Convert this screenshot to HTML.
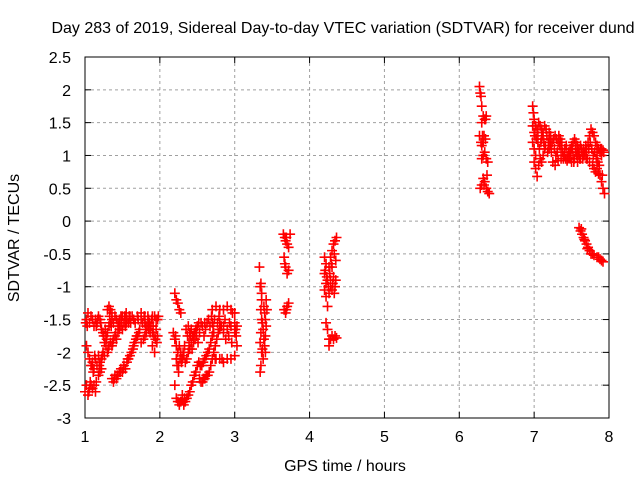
<!DOCTYPE html>
<html><head><meta charset="utf-8"><style>
body{margin:0;background:#fff;}
svg{display:block;font-family:"Liberation Sans",sans-serif;font-size:16px;}
</style></head><body>
<svg id="chart" width="640" height="480">
<g id="grid"></g><g id="axes"></g><g id="pts"></g>
<text x="343" y="33" text-anchor="middle">Day 283 of 2019, Sidereal Day-to-day VTEC variation (SDTVAR) for receiver dund</text>
<text x="345" y="471" text-anchor="middle">GPS time / hours</text>
<text transform="translate(19,238) rotate(-90)" text-anchor="middle">SDTVAR / TECUs</text>
</svg>
<script>
const xTicks=[1,2,3,4,5,6,7,8];
const yTicks=[2.5,2,1.5,1,0.5,0,-0.5,-1,-1.5,-2,-2.5,-3];
const clusterA=[[1.0,-2.6],[1.02,-2.5],[1.04,-2.65],[1.06,-2.55],[1.08,-2.5],[1.1,-2.55],[1.12,-2.5],[1.14,-2.6],
[1.02,-1.5],[1.04,-1.4],[1.06,-1.55],[1.08,-1.45],[1.1,-1.5],[1.12,-1.6],[1.14,-1.5],[1.16,-1.55],[1.18,-1.45],[1.2,-1.5],[1.22,-1.65],[1.24,-1.7],
[1.02,-1.9],[1.04,-2.0],[1.06,-2.1],[1.08,-2.2],[1.1,-2.15],[1.12,-2.25],[1.14,-2.1],[1.16,-2.2],[1.18,-2.05],[1.2,-2.15],[1.22,-2.1],[1.24,-2.0],[1.26,-2.05],[1.28,-1.9],
[1.15,-2.45],[1.18,-2.35],[1.2,-2.3],[1.22,-2.25],
[1.26,-1.85],[1.28,-1.75],[1.3,-1.7],[1.32,-1.6],[1.34,-1.55],[1.36,-1.5],[1.38,-1.55],[1.4,-1.45],[1.42,-1.5],[1.44,-1.55],[1.46,-1.5],[1.48,-1.45],
[1.3,-1.35],[1.32,-1.3],[1.34,-1.35],[1.36,-1.4],
[1.3,-2.0],[1.32,-1.9],[1.34,-1.85],[1.36,-1.9],[1.38,-1.8],[1.4,-1.75],[1.42,-1.8],[1.44,-1.7],[1.46,-1.65],[1.48,-1.6],[1.5,-1.65],[1.52,-1.55],[1.54,-1.6],[1.56,-1.5],[1.58,-1.55],[1.6,-1.5],
[1.36,-2.4],[1.38,-2.45],[1.4,-2.35],[1.42,-2.4],[1.44,-2.35],[1.46,-2.3],[1.48,-2.25],[1.5,-2.3],[1.52,-2.2],[1.54,-2.25],[1.56,-2.15],[1.58,-2.1],[1.6,-2.05],[1.62,-2.0],[1.64,-1.95],[1.66,-1.85],[1.68,-1.8],[1.7,-1.75],[1.72,-1.7],
[1.5,-1.45],[1.55,-1.4],[1.6,-1.45],[1.65,-1.5],[1.7,-1.45],[1.75,-1.5],[1.8,-1.45],[1.85,-1.5],[1.9,-1.45],[1.95,-1.5],[1.98,-1.45],
[1.75,-1.85],[1.78,-1.8],[1.8,-1.75],[1.82,-1.7],[1.85,-1.65],[1.88,-1.6],[1.9,-1.7],[1.92,-1.75],[1.94,-1.8],[1.96,-1.85],
[1.8,-1.55],[1.83,-1.6],[1.86,-1.55],[1.9,-1.9],[1.93,-2.0],[1.95,-1.65],
[1.01,-1.55],[1.03,-1.6],[1.05,-2.6],[1.07,-2.45],[1.09,-2.2],[1.11,-2.3],[1.13,-2.05],[1.15,-1.6],[1.17,-1.5],[1.19,-2.2],[1.21,-1.55],[1.23,-2.05],[1.25,-1.75],[1.27,-1.65],[1.29,-1.8],[1.31,-1.95],[1.33,-1.45],[1.35,-1.6],[1.37,-1.85],[1.39,-2.4],[1.41,-1.7],[1.43,-2.35],[1.45,-1.6],[1.47,-2.3],[1.49,-1.5],[1.51,-2.25],[1.53,-1.45],[1.55,-1.55],[1.57,-2.1],[1.59,-1.45],[1.61,-1.55],[1.63,-1.45],[1.65,-1.9],[1.67,-1.55],[1.69,-1.75],[1.71,-1.5],[1.73,-1.65],[1.75,-1.4],[1.77,-1.55],[1.79,-1.45],[1.81,-1.6],[1.84,-1.45],[1.87,-1.7],[1.89,-1.5],[1.91,-1.6],[1.93,-1.45],[1.97,-1.75],[1.97,-1.5]];
const clusterB=[[2.2,-1.1],[2.22,-1.2],[2.24,-1.25],[2.26,-1.35],[2.28,-1.4],
[2.18,-1.7],[2.2,-1.8],[2.22,-1.9],[2.24,-2.0],[2.22,-2.1],[2.25,-2.2],[2.2,-2.5],[2.22,-2.7],[2.24,-2.75],[2.26,-2.8],[2.3,-2.72],
[2.26,-1.9],[2.28,-2.0],[2.3,-2.1],[2.32,-2.05],[2.34,-2.15],[2.36,-2.1],[2.38,-2.0],[2.4,-1.95],[2.42,-1.85],[2.44,-1.75],[2.46,-1.7],[2.48,-1.65],[2.5,-1.6],[2.52,-1.55],[2.55,-1.55],[2.6,-1.55],[2.65,-1.5],[2.7,-1.55],
[2.32,-2.8],[2.34,-2.75],[2.36,-2.7],[2.38,-2.65],[2.4,-2.6],[2.42,-2.5],[2.44,-2.45],[2.46,-2.35],[2.48,-2.3],[2.5,-2.2],[2.52,-2.15],[2.54,-2.2],[2.56,-2.2],[2.58,-2.15],[2.6,-2.1],[2.62,-2.05],[2.64,-2.0],[2.66,-1.95],[2.68,-1.85],[2.7,-1.75],[2.72,-1.7],
[2.55,-2.45],[2.58,-2.4],[2.6,-2.4],[2.62,-2.35],[2.64,-2.35],[2.66,-2.3],[2.68,-2.2],[2.7,-2.1],[2.72,-2.0],[2.74,-1.9],[2.76,-1.8],[2.78,-1.7],[2.8,-1.65],
[2.35,-1.65],[2.38,-1.6],[2.4,-1.7],[2.42,-1.65],
[2.7,-1.35],[2.75,-1.3],[2.8,-1.35],[2.85,-1.35],[2.9,-1.3],[2.95,-1.35],[3.0,-1.4],
[2.8,-1.55],[2.85,-1.6],[2.9,-1.65],[2.95,-1.6],[3.0,-1.55],[3.03,-1.6],
[2.75,-2.1],[2.8,-2.1],[2.85,-2.15],[2.9,-2.1],[2.95,-2.1],[3.0,-2.05],[3.03,-1.9],
[2.85,-1.7],[2.88,-1.8],[2.92,-1.75],[2.96,-1.85],[3.0,-1.7],[3.02,-1.75],
[2.21,-1.75],[2.23,-2.2],[2.25,-2.3],[2.27,-2.1],[2.29,-2.15],[2.31,-2.0],[2.33,-1.9],[2.37,-1.75],[2.39,-1.85],[2.41,-1.75],[2.43,-1.95],[2.45,-1.85],[2.47,-1.8],[2.49,-1.75],[2.51,-1.85],[2.53,-1.7],[2.57,-1.6],[2.59,-1.75],[2.61,-1.65],[2.63,-1.55],[2.67,-1.6],[2.69,-1.45],[2.71,-1.6],[2.73,-1.5],[2.77,-1.55],[2.79,-1.45],[2.82,-1.6],[2.83,-2.1],[2.87,-1.5],[2.93,-1.55],[2.97,-1.4],[3.01,-1.65],[2.28,-2.75],[2.3,-2.65],[2.33,-2.7],[2.53,-2.4],[2.57,-2.45],[2.74,-2.1]];
const clusterC=[[3.33,-0.7],[3.35,-0.95],[3.34,-1.0],[3.36,-1.2],[3.35,-1.35],[3.36,-1.5],[3.35,-1.7],[3.34,-1.85],[3.36,-2.0],[3.35,-2.2],[3.34,-2.3],[3.38,-2.1],[3.4,-1.9],[3.41,-1.75],[3.42,-1.6],[3.41,-1.5],[3.43,-1.35],[3.42,-1.2],[3.4,-1.4],[3.38,-1.65],[3.39,-1.8],[3.37,-1.95],[3.37,-1.55],[3.39,-1.3],[3.41,-2.0],[3.36,-1.1]];
const clusterD=[[3.65,-0.2],[3.67,-0.25],[3.68,-0.3],[3.7,-0.35],[3.72,-0.4],[3.66,-0.55],[3.68,-0.7],[3.7,-0.8],[3.72,-0.75],[3.66,-1.35],[3.68,-1.4],[3.7,-1.3],[3.72,-1.25],[3.74,-0.2],[3.69,-0.25],[3.67,-0.65],[3.69,-1.35]];
const clusterE=[[4.2,-0.55],[4.22,-0.65],[4.2,-0.8],[4.22,-0.95],[4.2,-1.05],[4.22,-1.15],[4.24,-0.9],[4.26,-0.7],[4.28,-0.55],[4.3,-0.45],[4.32,-0.35],[4.34,-0.3],[4.36,-0.25],[4.3,-0.7],[4.32,-0.85],[4.34,-1.0],[4.3,-1.05],[4.35,-0.6],[4.28,-0.9],[4.26,-1.1],[4.22,-1.55],[4.24,-1.65],[4.26,-1.8],[4.26,-1.9],[4.3,-1.75],[4.32,-1.8],[4.34,-1.75],[4.36,-1.78],[4.28,-1.0],[4.24,-1.3],[4.21,-0.75],[4.23,-0.85],[4.25,-1.0],[4.27,-0.8],[4.29,-0.65],[4.31,-0.95],[4.33,-0.5],[4.35,-0.9],[4.33,-1.1],[4.28,-1.8]];
const clusterF=[[6.27,2.05],[6.28,1.95],[6.29,1.9],[6.3,1.75],[6.32,1.6],[6.34,1.55],[6.36,1.6],[6.3,1.5],[6.32,1.2],[6.33,1.3],[6.3,1.15],[6.34,1.05],[6.36,0.95],[6.38,0.9],[6.37,0.7],[6.3,0.95],[6.27,1.3],[6.32,0.65],[6.3,0.55],[6.28,0.5],[6.34,0.6],[6.36,0.5],[6.38,0.45],[6.4,0.42],[6.32,1.0],[6.29,1.2],[6.31,1.3],[6.35,1.25],[6.33,0.55],[6.35,1.55]];
const clusterG=[[6.98,1.75],[6.99,1.65],[7.0,1.55],[6.98,1.45],[7.0,1.35],[7.02,1.45],[7.04,1.4],[7.06,1.5],[7.08,1.45],[7.1,1.4],[7.12,1.35],[7.14,1.45],[7.16,1.4],[7.2,1.35],[7.22,1.3],
[6.98,1.2],[7.0,1.1],[7.02,1.0],[7.0,0.9],[7.02,0.8],[7.04,0.68],[7.06,0.85],[7.08,0.95],[7.1,0.9],[7.12,1.0],[7.14,1.1],[7.05,1.2],[7.1,1.25],[7.15,1.15],[7.18,1.05],
[7.2,1.1],[7.22,1.15],[7.24,1.2],[7.26,1.25],[7.28,1.3],[7.3,1.25],[7.32,1.2],[7.34,1.15],[7.36,1.1],[7.38,1.05],[7.4,1.0],[7.42,0.95],[7.44,1.0],[7.46,1.05],[7.48,1.1],[7.5,1.15],[7.52,1.2],[7.54,1.25],[7.56,1.2],[7.58,1.15],[7.6,1.1],
[7.25,0.9],[7.28,0.85],[7.32,0.92],[7.36,0.95],[7.4,1.0],[7.44,0.92],[7.48,0.95],[7.52,1.0],[7.56,1.05],[7.6,1.0],[7.64,1.05],[7.68,1.0],[7.7,1.05],
[7.5,0.9],[7.54,0.95],[7.58,0.9],[7.62,0.95],[7.66,1.0],[7.7,1.1],[7.72,1.2],[7.74,1.3],[7.76,1.4],[7.78,1.35],[7.8,1.3],[7.82,1.2],[7.84,1.15],[7.86,1.1],[7.88,1.05],[7.9,1.0],
[7.62,1.15],[7.66,1.1],[7.7,0.95],[7.74,0.9],[7.78,0.85],[7.8,0.8],[7.82,0.75],[7.84,0.8],[7.86,0.72],[7.88,0.7],[7.9,0.6],[7.92,0.5],[7.94,0.42],[7.84,1.05],[7.86,1.1],[7.9,1.1],[7.92,1.08],
[7.01,1.3],[7.03,1.25],[7.05,1.35],[7.07,1.1],[7.09,1.2],[7.11,1.3],[7.13,1.2],[7.17,1.3],[7.19,1.2],[7.21,1.25],[7.23,1.05],[7.27,1.1],[7.29,1.0],[7.31,1.05],[7.33,1.3],[7.35,1.25],[7.37,1.2],[7.39,0.95],[7.41,1.1],[7.43,1.15],[7.45,0.95],[7.47,1.0],[7.49,1.05],[7.51,1.1],[7.53,0.9],[7.55,1.1],[7.57,1.0],[7.59,1.05],[7.61,0.95],[7.63,1.1],[7.65,0.95],[7.67,1.05],[7.69,1.15],[7.71,0.95],[7.73,1.1],[7.75,1.2],[7.77,1.1],[7.79,1.0],[7.81,1.05],[7.83,0.95],[7.85,0.9],[7.87,0.85],[7.89,1.1],[7.91,0.7],[7.93,1.05]];
const clusterH=[[7.6,-0.1],[7.62,-0.15],[7.64,-0.2],[7.66,-0.25],[7.68,-0.3],[7.7,-0.35],[7.72,-0.4],[7.74,-0.45],[7.76,-0.5],[7.8,-0.52],[7.84,-0.55],[7.88,-0.58],[7.92,-0.62],[7.63,-0.12],[7.67,-0.28],[7.71,-0.42],[7.78,-0.5],[7.86,-0.55],[7.9,-0.6]];

const L=85,R=609,T=57,B=418,X0=1,X1=8,Y0=-3,Y1=2.5;
const sx=v=>L+(v-X0)/(X1-X0)*(R-L);
const sy=v=>B-(v-Y0)/(Y1-Y0)*(B-T);
const NS="http://www.w3.org/2000/svg";
function mk(tag,parent,attrs){const e=document.createElementNS(NS,tag);for(const k in attrs)e.setAttribute(k,attrs[k]);parent.appendChild(e);return e;}
const grid=document.getElementById('grid'),axes=document.getElementById('axes'),pts=document.getElementById('pts');
xTicks.forEach(t=>{const x=sx(t);
 if(t>X0&&t<X1){const g=mk('line',grid,{x1:x,x2:x,y1:T,y2:B,stroke:'#a0a0a0','stroke-dasharray':'3,3'});
 
 }
 mk('line',axes,{x1:x,x2:x,y1:B,y2:B-6,stroke:'#000'});
 mk('line',axes,{x1:x,x2:x,y1:T,y2:T+6,stroke:'#000'});
 const tx=mk('text',axes,{x:x,y:B+24,'text-anchor':'middle'});tx.textContent=t;
 
 
});
yTicks.forEach(t=>{const y=sy(t);
 if(t>Y0&&t<Y1){const g=mk('line',grid,{x1:L,x2:R,y1:y,y2:y,stroke:'#a0a0a0','stroke-dasharray':'3,3'});
 
 }
 mk('line',axes,{x1:L,x2:L+6,y1:y,y2:y,stroke:'#000'});
 mk('line',axes,{x1:R,x2:R-6,y1:y,y2:y,stroke:'#000'});
 const tx=mk('text',axes,{x:L-14,y:y+6,'text-anchor':'end'});tx.textContent=t;
 
 
});
const frame=mk('rect',axes,{x:L,y:T,width:R-L,height:B-T,fill:'none',stroke:'#000'});


[clusterA,clusterB,clusterC,clusterD,clusterE,clusterF,clusterG,clusterH].forEach(c=>c.forEach(p=>{
 const x=sx(p[0]),y=sy(p[1]);
 const m=mk('path',pts,{d:`M${x-5},${y}H${x+5}M${x},${y-5}V${y+5}`,stroke:'#ff0000','stroke-width':1.6,fill:'none'});
 
 
}));
</script>
</body></html>
